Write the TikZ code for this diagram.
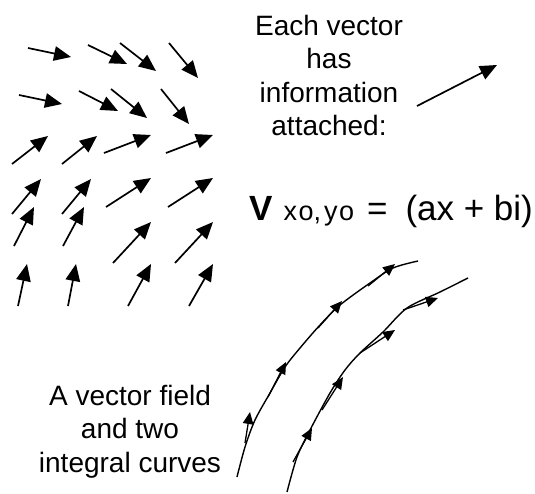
\documentclass[tikz,border=0pt]{standalone}
\usepackage{fontspec}
\setmainfont{Liberation Sans}
\usetikzlibrary{arrows.meta}
\tikzset{
  vec/.style={-{Triangle[length=17pt,width=14.5pt]}, line width=1.7pt},
  tang/.style={-{Triangle[length=12pt,width=10.5pt]}, line width=1.3pt},
  curve/.style={line width=1.4pt},
  label/.style={inner sep=0pt, align=center, font=\fontsize{28}{33.5}\selectfont},
}

\begin{document}
\begin{tikzpicture}[x=1pt, y=-1pt]
\useasboundingbox (0,0) rectangle (535,493);

% the vector field, tail/tip pairs
\foreach \ax/\ay/\bx/\by in {
  28/48/71/57, 88/45/127/64, 120/43/156/71, 169/43/198/78,
  19/95/62/104, 79/91/118/111, 111/89/147/118, 161/89/189/124,
  12/164/48/136, 62/164/97/136, 104/153/151/135, 166/153/213/135,
  12/214/41/179, 62/214/91/179, 106/207/151/178, 168/207/213/178,
  14/246/34/207, 63/246/84/207, 113/263/151/222, 175/263/213/222,
  18/306/27/264, 68/306/76/264, 128/306/151/264, 189/306/213/264}
  \draw[vec] (\ax,\ay) -- (\bx,\by);

% text
\node[label, anchor=north] (info) at (329,15)
  {Each vector\\has\\information\\attached:};
\coordinate (v0) at (417,106);
\coordinate (v1) at (497,65);
\draw[vec] (v0) -- (v1);

\node[inner sep=0pt, anchor=base west] (eqn) at (249,220)
  {\fontsize{35}{35}\selectfont\textbf{V}\hspace{11pt}%
   {\fontsize{27}{27}\selectfont x\kern1.5pt o,\kern3pt y\kern1.5pt o}%
   \hspace{13pt}=\hspace{18pt}(ax + bi)};

\node[label, anchor=north] (cap) at (130,385)
  {A vector field\\and two\\integral curves};

% integral curves
\draw[curve] plot[smooth] coordinates {(237,477) (245,447) (255,420) (270,393)
  (285,367) (300,348) (320,325) (340,305) (370,283) (393,268) (418,261)};
\draw[curve] plot[smooth] coordinates {(287,492) (297,457) (310,430) (330,393)
  (345,370) (360,353) (383,332) (407,308) (440,292) (468,278)};

% tangent vectors
\foreach \ax/\ay/\bx/\by in {
  245/443/250/412, 268/397/286/362, 318/328/342/301, 368/286/395/264,
  293/462/312/428, 322/410/343/377, 360/353/395/330, 403/310/438/298}
  \draw[tang] (\ax,\ay) -- (\bx,\by);

\end{tikzpicture}
\end{document}
